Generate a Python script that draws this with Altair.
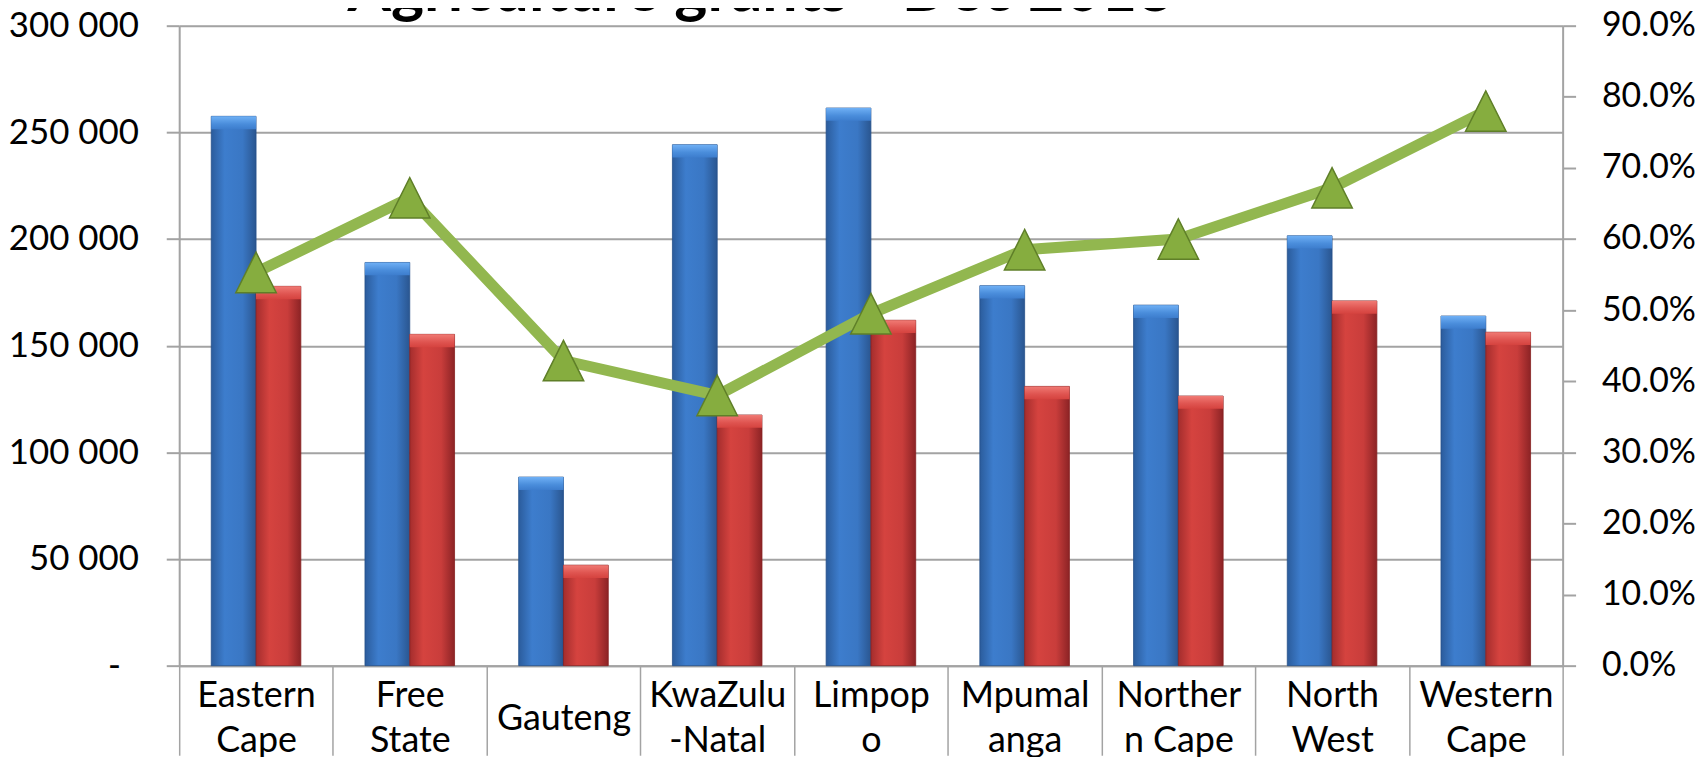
import json
import altair as alt
import pandas as pd

# ---------------- data ----------------
categories = ["Eastern Cape", "Free State", "Gauteng", "KwaZulu-Natal", "Limpopo",
              "Mpumalanga", "Northern Cape", "North West", "Western Cape"]
label_lines = ["Eastern|Cape", "Free|State", "Gauteng", "KwaZulu|-Natal", "Limpop|o",
               "Mpumal|anga", "Norther|n Cape", "North|West", "Western|Cape"]
allocation = [257500, 189000, 88400, 244200, 261400, 178100, 169000, 201500, 163900]
expenditure = [177800, 155300, 47100, 117500, 161900, 130900, 126400, 171000, 156300]
spent_pct = [0.553, 0.658, 0.429, 0.380, 0.495, 0.585, 0.600, 0.672, 0.780]
left_ticks = [0, 50000, 100000, 150000, 200000, 250000, 300000]
right_ticks = [0.0, 0.1, 0.2, 0.3, 0.4, 0.5, 0.6, 0.7, 0.8, 0.9]
series_names = ["Allocation", "Expenditure"]
title_text = "Agriculture grants - Dec 2013"

df = pd.DataFrame({"Province": categories, "Allocation": allocation,
                   "Expenditure": expenditure, "Spent": spent_pct})
title_df = pd.DataFrame({"t": [title_text]})

label_map = json.dumps(dict(zip(categories, label_lines)))

FONT = "Lato"
GRID = "#a3a3a3"


def hgrad(stops):
    return alt.Gradient(gradient="linear", x1=0, x2=1, y1=0, y2=0,
                        stops=[alt.GradientStop(color=c, offset=o) for c, o in stops])


def vgrad(stops):
    return alt.Gradient(gradient="linear", x1=0, x2=0, y1=0, y2=1,
                        stops=[alt.GradientStop(color=c, offset=o) for c, o in stops])


blue_grad = hgrad([("#2b5c9c", 0), ("#3d7dcd", 0.3), ("#3a77c4", 0.7), ("#2a5690", 1)])
red_grad = hgrad([("#a42d2d", 0), ("#d5433f", 0.3), ("#c93d3b", 0.7), ("#8c2325", 1)])
blue_bevel = vgrad([("#6fb0f5", 0), ("#4a8ddb", 0.6), ("#3d7dcd", 1)])
red_bevel = vgrad([("#f07a74", 0), ("#df5450", 0.6), ("#d5433f", 1)])

label_expr = ("isValid(" + label_map + "[datum.label]) ? split(" + label_map +
              "[datum.label], '|') : ''")

x_enc = alt.X("Province:N", sort=categories,
              scale=alt.Scale(type="band", domain=categories, paddingInner=0, paddingOuter=0),
              axis=alt.Axis(orient="bottom", title=None, tickBand="extent", ticks=True,
                            tickSize=90, tickColor=GRID, tickWidth=1.5,
                            domain=True, domainColor=GRID, domainWidth=2, grid=False,
                            labelExpr=label_expr,
                            labelFont=FONT, labelFontSize=36, labelLineHeight=45,
                            labelBaseline={"condition": {"test": "datum.label == 'Gauteng'",
                                                         "value": "middle"},
                                           "value": "line-bottom"},
                            labelAngle=0, labelPadding=-37,
                            labelColor="#000000", labelOverlap=False, labelFlush=False,
                            labelLimit=0))
xoff_enc = alt.XOffset("series:N", scale=alt.Scale(domain=series_names,
                                                   paddingInner=0, paddingOuter=0.716))

y_left = alt.Y("value:Q", scale=alt.Scale(domain=[0, 300000], nice=False, zero=True),
               axis=alt.Axis(orient="left", title=None, values=left_ticks,
                             grid=True, gridColor=GRID, gridWidth=2,
                             domain=True, domainColor=GRID, domainWidth=2,
                             ticks=True, tickSize=13, tickColor=GRID, tickWidth=2,
                             labelExpr="datum.value == 0 ? '-' : replace(format(datum.value, ',d'), ',', ' ')",
                             labelFont=FONT, labelFontSize=35, labelColor="#000000",
                             labelPadding={"condition": {"test": "datum.value == 0",
                                                         "value": 46},
                                           "value": 28}))
y_right = alt.Y("Spent:Q", scale=alt.Scale(domain=[0, 0.9], nice=False, zero=True),
                axis=alt.Axis(orient="right", title=None, values=right_ticks, format=".1%",
                              grid=False, domain=True, domainColor=GRID, domainWidth=2,
                              ticks=True, tickSize=13, tickColor=GRID, tickWidth=2,
                              labelFont=FONT, labelFontSize=34, labelColor="#000000",
                              labelPadding=26))

base = alt.Chart(df)
folded = base.transform_fold(series_names, as_=["series", "value"]).transform_calculate(
    bev="datum.value - 6000")

blue_src = folded.transform_filter(alt.datum.series == "Allocation")
red_src = folded.transform_filter(alt.datum.series == "Expenditure")

blue = blue_src.mark_bar(fill=blue_grad, stroke="#24508a", strokeWidth=0.8).encode(
    x=x_enc, xOffset=xoff_enc, y=y_left)
blue_top = blue_src.mark_bar(fill=blue_bevel).encode(
    x=x_enc, xOffset=xoff_enc, y=y_left, y2="bev:Q")
red = red_src.mark_bar(fill=red_grad, stroke="#86201f", strokeWidth=0.8).encode(
    x=x_enc, xOffset=xoff_enc, y=y_left)
red_top = red_src.mark_bar(fill=red_bevel).encode(
    x=x_enc, xOffset=xoff_enc, y=y_left, y2="bev:Q")

line = base.mark_line(color="#92b74f", strokeWidth=11, strokeJoin="miter").encode(
    x=x_enc, y=y_right)
points = base.mark_point(shape="M0,-1L-1,1L1,1Z", size=1650, filled=True,
                         fill="#86ad3f", stroke="#5f7f28", strokeWidth=1.5,
                         opacity=1).encode(x=x_enc, y=y_right)

title = alt.Chart(title_df).mark_text(
    font=FONT, fontSize=63, fontWeight="bold", color="#000000",
    align="center", baseline="alphabetic").encode(
    text="t:N", x=alt.value(584), y=alt.value(-15))

chart = alt.layer(
    alt.layer(blue, blue_top, red, red_top),
    alt.layer(line, points),
    title,
).resolve_scale(y="independent").properties(
    width=1390, height=643,
    padding={"left": 172, "top": 16, "right": 136, "bottom": 90},
    autosize=alt.AutoSizeParams(type="none"),
).configure_view(stroke=None).configure(background="white")

chart.save("out.html", embed_options={"renderer": "svg", "actions": False})
